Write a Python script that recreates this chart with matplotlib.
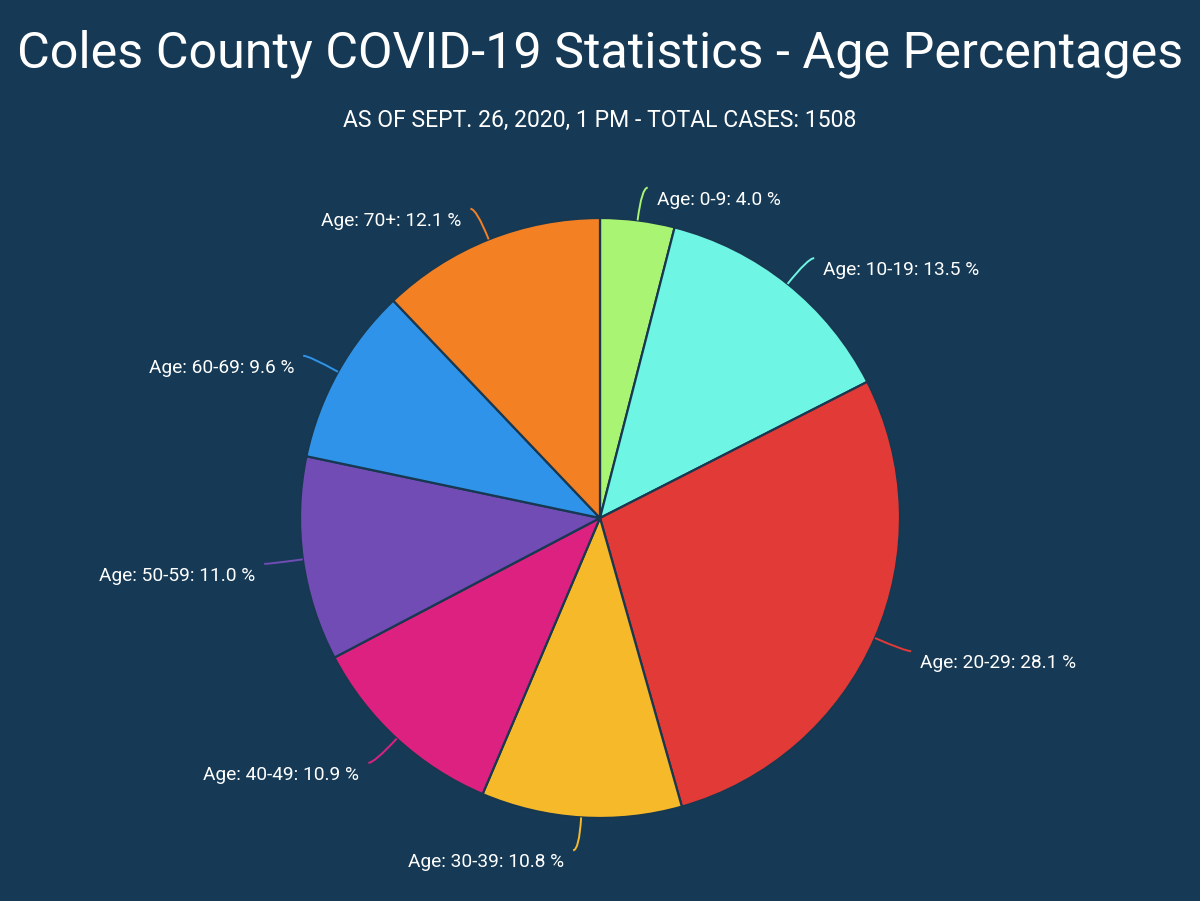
import numpy as np
import matplotlib.pyplot as plt
from matplotlib.path import Path
from matplotlib.patches import PathPatch

# Coles County COVID-19 cases by age group, share of total (%)
ages = ['0-9', '10-19', '20-29', '30-39', '40-49', '50-59', '60-69', '70+']
shares = [4.0, 13.5, 28.1, 10.8, 10.9, 11.0, 9.6, 12.1]
colors = ['#a9f472', '#6ff5e4', '#e23a36', '#f6b92a',
          '#dc2181', '#704cb4', '#2f94e9', '#f48024']

title = 'Coles County COVID-19 Statistics - Age Percentages'
subtitle = 'AS OF SEPT. 26, 2020, 1 PM - TOTAL CASES: 1508'

bg = '#163a55'
W, H = 1200, 901
cx, cy, R = 600, H - 518, 300

plt.rcParams['font.family'] = ['Roboto', 'DejaVu Sans']

fig = plt.figure(figsize=(12, 9.01), dpi=100, facecolor=bg)
ax = fig.add_axes([0, 0, 1, 1])
ax.set_facecolor(bg)

ax.pie(shares, colors=colors, startangle=90, counterclock=False,
       center=(cx, cy), radius=R,
       wedgeprops=dict(edgecolor='#173850', linewidth=1.6))
ax.set_xlim(0, W)
ax.set_ylim(0, H)
ax.set_aspect('equal')
ax.axis('off')

renderer = fig.canvas.get_renderer()


def fit(txt, width):
    # shrink/grow a text so it spans the given pixel width
    w = txt.get_window_extent(renderer).width
    txt.set_fontsize(txt.get_fontsize() * width / w)


t = ax.text(W / 2, H - 68, title, color='white', ha='center',
            va='baseline', fontsize=40)
fit(t, 1164)
s = ax.text(W / 2, H - 127, subtitle, color='white', ha='center',
            va='baseline', fontsize=16)
fit(s, 514)

# slice labels with short curved leaders
cum = np.cumsum([0] + shares[:-1])
labels = []
for age, share, c0, col in zip(ages, shares, cum, colors):
    a = np.radians((c0 + share / 2) * 3.6)
    dx, dy = np.sin(a), np.cos(a)
    side = 1 if dx >= 0 else -1
    p0 = (cx + R * dx, cy + R * dy)
    p1 = (cx + 333 * dx, cy + 333 * dy)
    p2 = (p1[0] + side * 6, p1[1])
    leader = Path([p0, p1, p2], [Path.MOVETO, Path.CURVE3, Path.CURVE3])
    ax.add_patch(PathPatch(leader, fill=False, edgecolor=col, lw=1.4))
    lab = ax.text(p2[0] + side * 9, p2[1] - 17, f'Age: {age}: {share:.1f} %',
                  color='white', ha='left' if side > 0 else 'right',
                  va='baseline', fontsize=14)
    labels.append(lab)

w = labels[1].get_window_extent(renderer).width
for lab in labels:
    lab.set_fontsize(lab.get_fontsize() * 157 / w)

fig.savefig('out.png', dpi=100, facecolor=bg)
